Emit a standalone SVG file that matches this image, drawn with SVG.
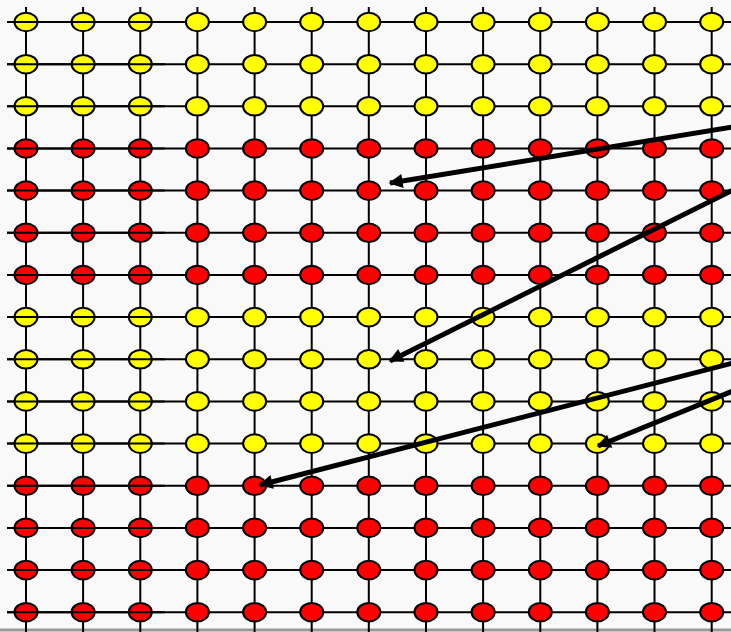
<svg xmlns="http://www.w3.org/2000/svg" width="731" height="632" viewBox="0 0 731 632">
<defs>
<style>
.g{stroke:#000;stroke-width:2;fill:none}
.y{fill:#ffff00;stroke:#000;stroke-width:2}
.r{fill:#ff0000;stroke:#000;stroke-width:2}
.a{stroke:#000;stroke-width:5;fill:none;marker-end:url(#ah)}
</style>
<marker id="ah" viewBox="0 0 10 10" refX="9" refY="5" markerWidth="3.2" markerHeight="2.8" orient="auto" markerUnits="strokeWidth">
<path d="M0,0 L10,5 L0,10 z" fill="#000"/>
</marker>
<ellipse id="n" cx="0" cy="0" rx="11.5" ry="9.3"/>
</defs>
<rect width="731" height="632" fill="#f9f9f9"/>
<line x1="0" y1="630" x2="731" y2="630" stroke="#999" stroke-width="3"/>
<g id="grid" class="g">
<path d="M7,22H731M7,64.2H731M7,106.3H731M7,148.5H731M7,190.6H731M7,232.8H731M7,275H731M7,317.1H731M7,359.3H731M7,401.4H731M7,443.6H731M7,485.8H731M7,527.9H731M7,570.1H731M7,612.2H731"/>
<path d="M26,7V632M83.1,7V632M140.3,7V632M197.4,7V632M254.6,7V632M311.7,7V632M368.8,7V632M426,7V632M483.1,7V632M540.3,7V632M597.4,7V632M654.5,7V632M711.7,7V632"/>
</g>
<g id="nodes">
<g id="row0" class="y"><use href="#n" x="26" y="22"/><use href="#n" x="83.1" y="22"/><use href="#n" x="140.3" y="22"/><use href="#n" x="197.4" y="22"/><use href="#n" x="254.6" y="22"/><use href="#n" x="311.7" y="22"/><use href="#n" x="368.8" y="22"/><use href="#n" x="426" y="22"/><use href="#n" x="483.1" y="22"/><use href="#n" x="540.3" y="22"/><use href="#n" x="597.4" y="22"/><use href="#n" x="654.5" y="22"/><use href="#n" x="711.7" y="22"/></g>
<g id="row1" class="y"><use href="#n" x="26" y="64.2"/><use href="#n" x="83.1" y="64.2"/><use href="#n" x="140.3" y="64.2"/><use href="#n" x="197.4" y="64.2"/><use href="#n" x="254.6" y="64.2"/><use href="#n" x="311.7" y="64.2"/><use href="#n" x="368.8" y="64.2"/><use href="#n" x="426" y="64.2"/><use href="#n" x="483.1" y="64.2"/><use href="#n" x="540.3" y="64.2"/><use href="#n" x="597.4" y="64.2"/><use href="#n" x="654.5" y="64.2"/><use href="#n" x="711.7" y="64.2"/></g>
<g id="row2" class="y"><use href="#n" x="26" y="106.3"/><use href="#n" x="83.1" y="106.3"/><use href="#n" x="140.3" y="106.3"/><use href="#n" x="197.4" y="106.3"/><use href="#n" x="254.6" y="106.3"/><use href="#n" x="311.7" y="106.3"/><use href="#n" x="368.8" y="106.3"/><use href="#n" x="426" y="106.3"/><use href="#n" x="483.1" y="106.3"/><use href="#n" x="540.3" y="106.3"/><use href="#n" x="597.4" y="106.3"/><use href="#n" x="654.5" y="106.3"/><use href="#n" x="711.7" y="106.3"/></g>
<g id="row3" class="r"><use href="#n" x="26" y="148.5"/><use href="#n" x="83.1" y="148.5"/><use href="#n" x="140.3" y="148.5"/><use href="#n" x="197.4" y="148.5"/><use href="#n" x="254.6" y="148.5"/><use href="#n" x="311.7" y="148.5"/><use href="#n" x="368.8" y="148.5"/><use href="#n" x="426" y="148.5"/><use href="#n" x="483.1" y="148.5"/><use href="#n" x="540.3" y="148.5"/><use href="#n" x="597.4" y="148.5"/><use href="#n" x="654.5" y="148.5"/><use href="#n" x="711.7" y="148.5"/></g>
<g id="row4" class="r"><use href="#n" x="26" y="190.6"/><use href="#n" x="83.1" y="190.6"/><use href="#n" x="140.3" y="190.6"/><use href="#n" x="197.4" y="190.6"/><use href="#n" x="254.6" y="190.6"/><use href="#n" x="311.7" y="190.6"/><use href="#n" x="368.8" y="190.6"/><use href="#n" x="426" y="190.6"/><use href="#n" x="483.1" y="190.6"/><use href="#n" x="540.3" y="190.6"/><use href="#n" x="597.4" y="190.6"/><use href="#n" x="654.5" y="190.6"/><use href="#n" x="711.7" y="190.6"/></g>
<g id="row5" class="r"><use href="#n" x="26" y="232.8"/><use href="#n" x="83.1" y="232.8"/><use href="#n" x="140.3" y="232.8"/><use href="#n" x="197.4" y="232.8"/><use href="#n" x="254.6" y="232.8"/><use href="#n" x="311.7" y="232.8"/><use href="#n" x="368.8" y="232.8"/><use href="#n" x="426" y="232.8"/><use href="#n" x="483.1" y="232.8"/><use href="#n" x="540.3" y="232.8"/><use href="#n" x="597.4" y="232.8"/><use href="#n" x="654.5" y="232.8"/><use href="#n" x="711.7" y="232.8"/></g>
<g id="row6" class="r"><use href="#n" x="26" y="275"/><use href="#n" x="83.1" y="275"/><use href="#n" x="140.3" y="275"/><use href="#n" x="197.4" y="275"/><use href="#n" x="254.6" y="275"/><use href="#n" x="311.7" y="275"/><use href="#n" x="368.8" y="275"/><use href="#n" x="426" y="275"/><use href="#n" x="483.1" y="275"/><use href="#n" x="540.3" y="275"/><use href="#n" x="597.4" y="275"/><use href="#n" x="654.5" y="275"/><use href="#n" x="711.7" y="275"/></g>
<g id="row7" class="y"><use href="#n" x="26" y="317.1"/><use href="#n" x="83.1" y="317.1"/><use href="#n" x="140.3" y="317.1"/><use href="#n" x="197.4" y="317.1"/><use href="#n" x="254.6" y="317.1"/><use href="#n" x="311.7" y="317.1"/><use href="#n" x="368.8" y="317.1"/><use href="#n" x="426" y="317.1"/><use href="#n" x="483.1" y="317.1"/><use href="#n" x="540.3" y="317.1"/><use href="#n" x="597.4" y="317.1"/><use href="#n" x="654.5" y="317.1"/><use href="#n" x="711.7" y="317.1"/></g>
<g id="row8" class="y"><use href="#n" x="26" y="359.3"/><use href="#n" x="83.1" y="359.3"/><use href="#n" x="140.3" y="359.3"/><use href="#n" x="197.4" y="359.3"/><use href="#n" x="254.6" y="359.3"/><use href="#n" x="311.7" y="359.3"/><use href="#n" x="368.8" y="359.3"/><use href="#n" x="426" y="359.3"/><use href="#n" x="483.1" y="359.3"/><use href="#n" x="540.3" y="359.3"/><use href="#n" x="597.4" y="359.3"/><use href="#n" x="654.5" y="359.3"/><use href="#n" x="711.7" y="359.3"/></g>
<g id="row9" class="y"><use href="#n" x="26" y="401.4"/><use href="#n" x="83.1" y="401.4"/><use href="#n" x="140.3" y="401.4"/><use href="#n" x="197.4" y="401.4"/><use href="#n" x="254.6" y="401.4"/><use href="#n" x="311.7" y="401.4"/><use href="#n" x="368.8" y="401.4"/><use href="#n" x="426" y="401.4"/><use href="#n" x="483.1" y="401.4"/><use href="#n" x="540.3" y="401.4"/><use href="#n" x="597.4" y="401.4"/><use href="#n" x="654.5" y="401.4"/><use href="#n" x="711.7" y="401.4"/></g>
<g id="row10" class="y"><use href="#n" x="26" y="443.6"/><use href="#n" x="83.1" y="443.6"/><use href="#n" x="140.3" y="443.6"/><use href="#n" x="197.4" y="443.6"/><use href="#n" x="254.6" y="443.6"/><use href="#n" x="311.7" y="443.6"/><use href="#n" x="368.8" y="443.6"/><use href="#n" x="426" y="443.6"/><use href="#n" x="483.1" y="443.6"/><use href="#n" x="540.3" y="443.6"/><use href="#n" x="597.4" y="443.6"/><use href="#n" x="654.5" y="443.6"/><use href="#n" x="711.7" y="443.6"/></g>
<g id="row11" class="r"><use href="#n" x="26" y="485.8"/><use href="#n" x="83.1" y="485.8"/><use href="#n" x="140.3" y="485.8"/><use href="#n" x="197.4" y="485.8"/><use href="#n" x="254.6" y="485.8"/><use href="#n" x="311.7" y="485.8"/><use href="#n" x="368.8" y="485.8"/><use href="#n" x="426" y="485.8"/><use href="#n" x="483.1" y="485.8"/><use href="#n" x="540.3" y="485.8"/><use href="#n" x="597.4" y="485.8"/><use href="#n" x="654.5" y="485.8"/><use href="#n" x="711.7" y="485.8"/></g>
<g id="row12" class="r"><use href="#n" x="26" y="527.9"/><use href="#n" x="83.1" y="527.9"/><use href="#n" x="140.3" y="527.9"/><use href="#n" x="197.4" y="527.9"/><use href="#n" x="254.6" y="527.9"/><use href="#n" x="311.7" y="527.9"/><use href="#n" x="368.8" y="527.9"/><use href="#n" x="426" y="527.9"/><use href="#n" x="483.1" y="527.9"/><use href="#n" x="540.3" y="527.9"/><use href="#n" x="597.4" y="527.9"/><use href="#n" x="654.5" y="527.9"/><use href="#n" x="711.7" y="527.9"/></g>
<g id="row13" class="r"><use href="#n" x="26" y="570.1"/><use href="#n" x="83.1" y="570.1"/><use href="#n" x="140.3" y="570.1"/><use href="#n" x="197.4" y="570.1"/><use href="#n" x="254.6" y="570.1"/><use href="#n" x="311.7" y="570.1"/><use href="#n" x="368.8" y="570.1"/><use href="#n" x="426" y="570.1"/><use href="#n" x="483.1" y="570.1"/><use href="#n" x="540.3" y="570.1"/><use href="#n" x="597.4" y="570.1"/><use href="#n" x="654.5" y="570.1"/><use href="#n" x="711.7" y="570.1"/></g>
<g id="row14" class="r"><use href="#n" x="26" y="612.2"/><use href="#n" x="83.1" y="612.2"/><use href="#n" x="140.3" y="612.2"/><use href="#n" x="197.4" y="612.2"/><use href="#n" x="254.6" y="612.2"/><use href="#n" x="311.7" y="612.2"/><use href="#n" x="368.8" y="612.2"/><use href="#n" x="426" y="612.2"/><use href="#n" x="483.1" y="612.2"/><use href="#n" x="540.3" y="612.2"/><use href="#n" x="597.4" y="612.2"/><use href="#n" x="654.5" y="612.2"/><use href="#n" x="711.7" y="612.2"/></g>
</g>
<g id="overlay" class="g">
<path d="M7,22H165M7,64.2H165M7,106.3H165M7,148.5H165M7,190.6H165M7,232.8H165M7,275H165M7,317.1H165M7,359.3H165M7,401.4H165M7,443.6H165M7,485.8H165M7,527.9H165M7,570.1H165M7,612.2H165"/>
</g>
<g id="connectors">
<line class="a" x1="733" y1="127" x2="390" y2="183"/>
<line class="a" x1="733" y1="190" x2="390" y2="361"/>
<line class="a" x1="733" y1="363" x2="260" y2="485"/>
<line class="a" x1="733" y1="391" x2="598" y2="446"/>
</g>
</svg>
